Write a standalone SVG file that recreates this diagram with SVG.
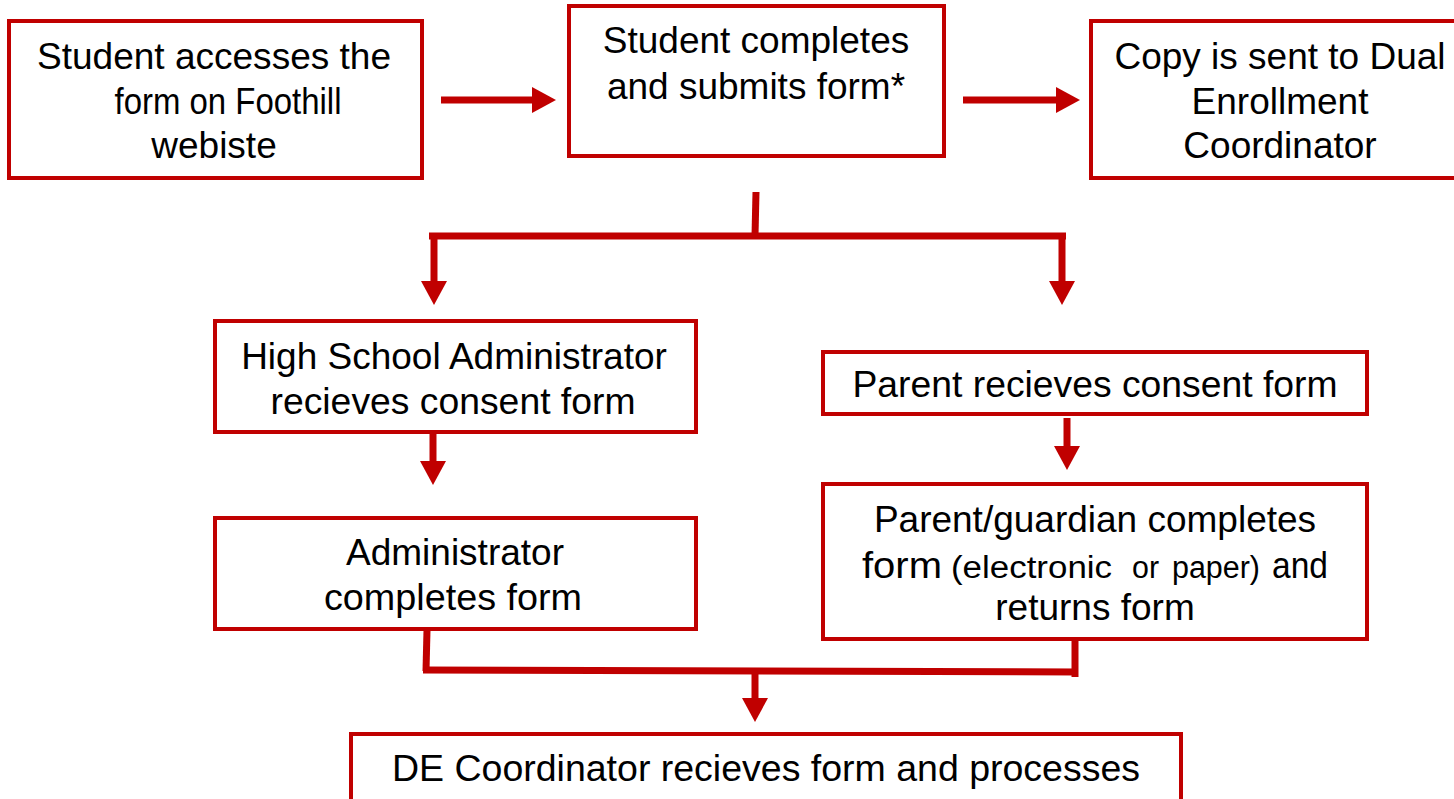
<svg xmlns="http://www.w3.org/2000/svg" width="1454" height="799" viewBox="0 0 1454 799">
<defs>
<style>
.box{fill:#fff;stroke:#C00000;stroke-width:4}
.t{font-family:"Liberation Sans",Arial,sans-serif;font-size:37px;fill:#000;text-anchor:middle}
.l{text-anchor:start}
.s{font-size:31px}
.c{fill:none;stroke:#C00000;stroke-width:7}
</style>
<marker id="ah" markerUnits="userSpaceOnUse" markerWidth="24" markerHeight="26" refX="2" refY="13" orient="auto" viewBox="0 0 24 26">
<path d="M0,0 L24,13 L0,26 Z" fill="#C00000"/>
</marker>
</defs>
<g id="connectors">
<line class="c" x1="441" y1="100" x2="534" y2="100" marker-end="url(#ah)"/>
<line class="c" x1="963" y1="100" x2="1058" y2="100" marker-end="url(#ah)"/>
<polyline class="c" points="756,192 755,236"/>
<line class="c" x1="429" y1="236" x2="1066" y2="236"/>
<line class="c" x1="434" y1="236" x2="434" y2="283" marker-end="url(#ah)"/>
<line class="c" x1="1062" y1="236" x2="1062" y2="283" marker-end="url(#ah)"/>
<line class="c" x1="433" y1="433" x2="433" y2="463" marker-end="url(#ah)"/>
<line class="c" x1="1067" y1="418" x2="1067" y2="448" marker-end="url(#ah)"/>
<line class="c" x1="427" y1="630" x2="426" y2="671"/>
<line class="c" x1="1075" y1="640" x2="1075" y2="677"/>
<line class="c" x1="423" y1="670" x2="1078" y2="672"/>
<line class="c" x1="755" y1="672" x2="755" y2="700" marker-end="url(#ah)"/>
</g>
<g id="n1">
<rect class="box" x="9" y="21" width="413" height="157"/>
<text class="t" x="214" y="69" textLength="354" lengthAdjust="spacingAndGlyphs">Student accesses the</text>
<text class="t" x="228" y="114" textLength="227" lengthAdjust="spacingAndGlyphs">form on Foothill</text>
<text class="t" x="214" y="158">webiste</text>
</g>
<g id="n2">
<rect class="box" x="569" y="6" width="375" height="150"/>
<text class="t" x="756" y="53">Student completes</text>
<text class="t" x="756" y="99">and submits form*</text>
</g>
<g id="n3">
<rect class="box" x="1091" y="21" width="380" height="157"/>
<text class="t" x="1280" y="69">Copy is sent to Dual</text>
<text class="t" x="1280" y="114">Enrollment</text>
<text class="t" x="1280" y="158">Coordinator</text>
</g>
<g id="n4">
<rect class="box" x="215" y="321" width="481" height="111"/>
<text class="t" x="454" y="369">High School Administrator</text>
<text class="t" x="453" y="414" textLength="365" lengthAdjust="spacingAndGlyphs">recieves consent form</text>
</g>
<g id="n5">
<rect class="box" x="823" y="352" width="544" height="62"/>
<text class="t" x="1095" y="397" textLength="485" lengthAdjust="spacingAndGlyphs">Parent recieves consent form</text>
</g>
<g id="n6">
<rect class="box" x="215" y="518" width="481" height="111"/>
<text class="t" x="455" y="565">Administrator</text>
<text class="t" x="453" y="610" textLength="258" lengthAdjust="spacingAndGlyphs">completes form</text>
</g>
<g id="n7">
<rect class="box" x="823" y="484" width="544" height="155"/>
<text class="t" x="1095" y="532">Parent/guardian completes</text>
<text class="t l" x="862" y="578" textLength="80" lengthAdjust="spacingAndGlyphs">form</text>
<text class="t l s" x="951" y="578" textLength="161" lengthAdjust="spacingAndGlyphs">(electronic</text>
<text class="t l s" x="1132" y="578" textLength="27" lengthAdjust="spacingAndGlyphs">or</text>
<text class="t l s" x="1172" y="578" textLength="88" lengthAdjust="spacingAndGlyphs">paper)</text>
<text class="t l" x="1272" y="578" textLength="56" lengthAdjust="spacingAndGlyphs">and</text>
<text class="t" x="1095" y="620">returns form</text>
</g>
<g id="n8">
<rect class="box" x="351" y="734" width="830" height="80"/>
<text class="t" x="766" y="781" textLength="748" lengthAdjust="spacingAndGlyphs">DE Coordinator recieves form and processes</text>
</g>
</svg>
